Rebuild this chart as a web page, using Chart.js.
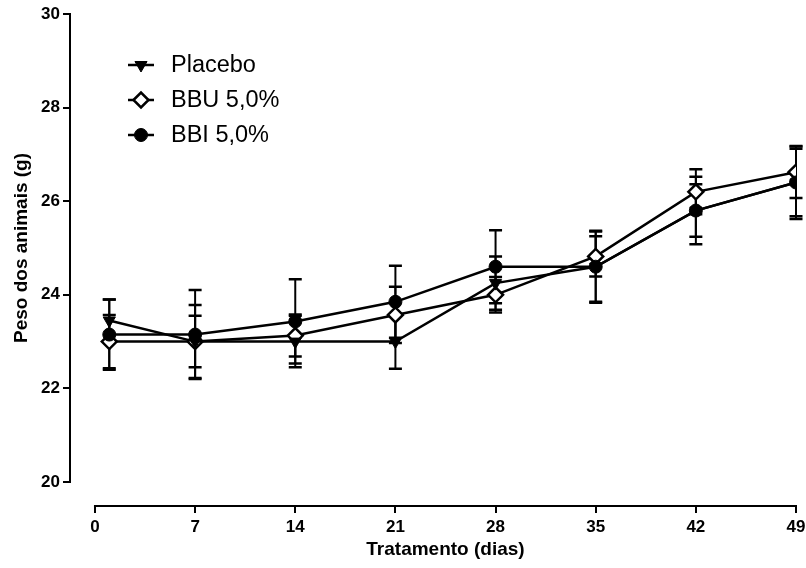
<!DOCTYPE html>
<html><head><meta charset="utf-8">
<script src="https://cdn.jsdelivr.net/npm/chart.js@4/dist/chart.umd.min.js"></script>
<style>html,body{margin:0;padding:0;background:#fff}</style>
</head><body>
<canvas id="c" width="806" height="568"></canvas>
<script>
// ---- data ----
const days = [1, 7, 14, 21, 28, 35, 42, 49];
const xTicks = [0, 7, 14, 21, 28, 35, 42, 49];
const yTicks = [20, 22, 24, 26, 28, 30];
const seriesLabels = ['Placebo', 'BBU 5,0%', 'BBI 5,0%'];
const placebo    = [23.45, 23.0, 23.0, 23.0, 24.25, 24.6, 25.8, 26.4];
const placeboErr = [0.45, 0.78, 0.55, 0.58, 0.57, 0.75, 0.56, 0.72];
const bbu        = [23.0, 23.0, 23.13, 23.57, 24.0, 24.82, 26.2, 26.62];
const bbuErr     = [0.57, 0.55, 0.45, 0.60, 0.38, 0.43, 0.48, 0.55];
const bbi        = [23.15, 23.15, 23.43, 23.85, 24.6, 24.6, 25.8, 26.4];
const bbiErr     = [0.75, 0.95, 0.90, 0.77, 0.78, 0.77, 0.72, 0.78];
const xTitle = 'Tratamento (dias)';
const yTitle = 'Peso dos animais (g)';

const FONT = "'Liberation Sans', Arial, Helvetica, sans-serif";
// axis ranges (offset axes, GraphPad style)
const xMin = -1.745, xMax = 49;
const yMin = 19.487, yMax = 30;

const styles = [
  {pointStyle: 'triangle', rotation: 180, radius: 7, fill: '#000', border: 1, order: 1},
  {pointStyle: 'rectRot', rotation: 0, radius: 7.5, fill: '#fff', border: 2.5, order: 2},
  {pointStyle: 'circle', rotation: 0, radius: 6.5, fill: '#000', border: 1, order: 0}
];
const values = [placebo, bbu, bbi];
const errors = [placeboErr, bbuErr, bbiErr];

const datasets = seriesLabels.map((label, i) => ({
  label,
  data: days.map((d, j) => ({x: d, y: values[i][j]})),
  borderColor: '#000',
  borderWidth: 2.5,
  backgroundColor: styles[i].fill,
  pointStyle: styles[i].pointStyle,
  pointRotation: styles[i].rotation,
  pointRadius: styles[i].radius,
  pointBackgroundColor: styles[i].fill,
  pointBorderColor: '#000',
  pointBorderWidth: styles[i].border,
  tension: 0,
  fill: false,
  order: styles[i].order,
  errors: errors[i]
}));

const errorBars = {
  id: 'errorBars',
  beforeDatasetsDraw(chart) {
    const ctx = chart.ctx, xs = chart.scales.x, ys = chart.scales.y;
    ctx.save();
    ctx.strokeStyle = '#000';
    chart.data.datasets.forEach(ds => {
      ds.data.forEach((p, j) => {
        const e = ds.errors[j];
        const x = xs.getPixelForValue(p.x);
        const yt = ys.getPixelForValue(p.y + e);
        const yb = ys.getPixelForValue(p.y - e);
        ctx.lineWidth = 2;
        ctx.beginPath(); ctx.moveTo(x, yt); ctx.lineTo(x, yb); ctx.stroke();
        ctx.lineWidth = 2.5;
        ctx.beginPath();
        ctx.moveTo(x - 6.5, yt); ctx.lineTo(x + 6.5, yt);
        ctx.moveTo(x - 6.5, yb); ctx.lineTo(x + 6.5, yb);
        ctx.stroke();
      });
    });
    ctx.restore();
  }
};

const axesExtra = {
  id: 'axesExtra',
  afterDraw(chart) {
    const ctx = chart.ctx, xs = chart.scales.x, ys = chart.scales.y;
    const x0 = xs.getPixelForValue(xTicks[0]);
    const x1 = xs.getPixelForValue(xTicks[xTicks.length - 1]);
    const y0 = ys.getPixelForValue(yTicks[0]);
    const y1 = ys.getPixelForValue(yTicks[yTicks.length - 1]);
    const xl = chart.chartArea.left;
    const yb = chart.chartArea.bottom;
    ctx.save();
    ctx.strokeStyle = '#000';
    ctx.lineWidth = 2;
    ctx.beginPath();
    ctx.moveTo(x0 - 1, yb); ctx.lineTo(x1 + 1, yb);
    ctx.moveTo(xl, y1 - 1); ctx.lineTo(xl, y0 + 1);
    ctx.stroke();
    ctx.fillStyle = '#000';
    ctx.font = 'bold 19px ' + FONT;
    ctx.textAlign = 'center';
    ctx.textBaseline = 'middle';
    ctx.fillText(xTitle, (x0 + x1) / 2, 550);
    ctx.translate(22, (y0 + y1) / 2);
    ctx.rotate(-Math.PI / 2);
    ctx.fillText(yTitle, 0, 0);
    ctx.restore();
  }
};

const legendDraw = {
  id: 'legendDraw',
  afterDraw(chart) {
    const ctx = chart.ctx;
    ctx.save();
    chart.data.datasets.forEach((ds, i) => {
      const cy = 65 + i * 35;
      ctx.strokeStyle = '#000';
      ctx.lineWidth = 2.5;
      ctx.beginPath(); ctx.moveTo(128, cy); ctx.lineTo(154, cy); ctx.stroke();
      ctx.fillStyle = ds.pointBackgroundColor;
      ctx.lineWidth = ds.pointBorderWidth;
      Chart.helpers.drawPoint(ctx, {
        pointStyle: ds.pointStyle, rotation: ds.pointRotation,
        radius: ds.pointRadius, borderWidth: ds.pointBorderWidth
      }, 141, cy);
      ctx.fillStyle = '#000';
      ctx.font = '23.5px ' + FONT;
      ctx.textAlign = 'left';
      ctx.textBaseline = 'middle';
      ctx.fillText(ds.label, 171, cy + 1);
    });
    ctx.restore();
  }
};

new Chart(document.getElementById('c'), {
  type: 'line',
  data: {datasets},
  options: {
    responsive: false,
    animation: false,
    events: [],
    layout: {padding: {top: 14, right: 9, bottom: 0, left: 0}},
    plugins: {legend: {display: false}, tooltip: {enabled: false}},
    scales: {
      x: {
        type: 'linear', min: xMin, max: xMax,
        afterBuildTicks: s => { s.ticks = xTicks.map(v => ({value: v})); },
        border: {display: false},
        grid: {drawOnChartArea: false, drawTicks: true, tickLength: 7, color: '#000', lineWidth: 2},
        ticks: {color: '#000', font: {family: FONT, size: 17, weight: 'bold'}, padding: 4, maxRotation: 0, autoSkip: false},
        afterFit: s => { s.height = 62; s.paddingLeft = 0; s.paddingRight = 0; }
      },
      y: {
        min: yMin, max: yMax,
        afterBuildTicks: s => { s.ticks = yTicks.map(v => ({value: v})); },
        border: {display: false},
        grid: {drawOnChartArea: false, drawTicks: true, tickLength: 7, color: '#000', lineWidth: 2},
        ticks: {color: '#000', font: {family: FONT, size: 17, weight: 'bold'}, padding: 3},
        afterFit: s => { s.width = 70; s.paddingTop = 0; s.paddingBottom = 0; }
      }
    }
  },
  plugins: [errorBars, axesExtra, legendDraw]
});
</script>
</body></html>
